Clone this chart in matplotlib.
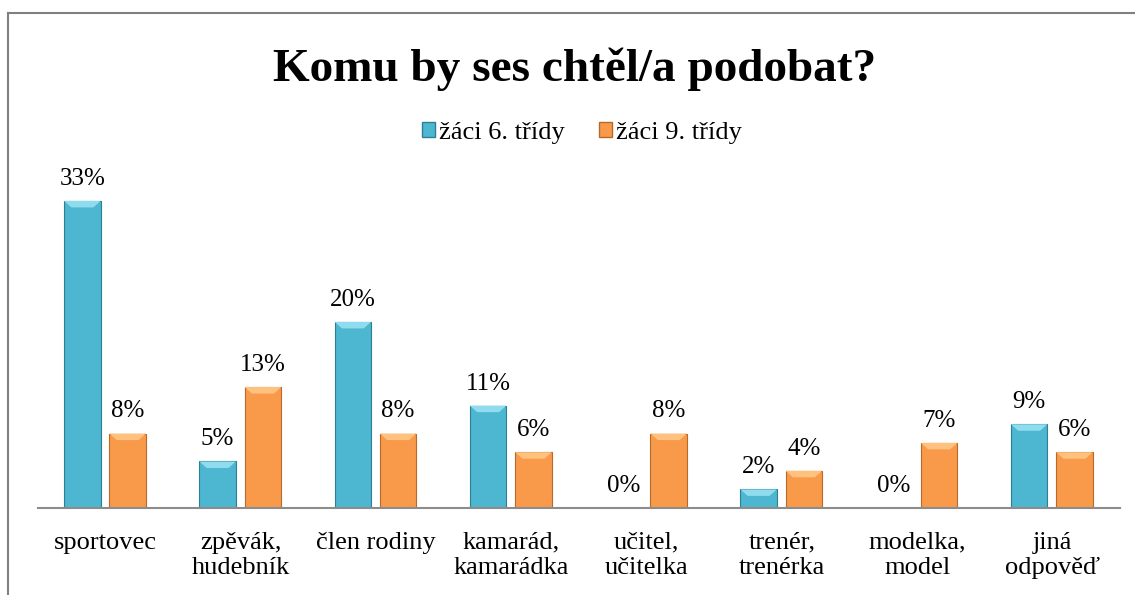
import matplotlib.pyplot as plt
from matplotlib.patches import Polygon, Rectangle
import numpy as np

plt.rcParams['font.family'] = ['Liberation Serif', 'DejaVu Serif']

categories = ['sportovec', 'zpěvák,\nhudebník', 'člen rodiny', 'kamarád,\nkamarádka',
              'učitel,\nučitelka', 'trenér,\ntrenérka', 'modelka,\nmodel', 'jiná\nodpověď']
grade6 = [33, 5, 20, 11, 0, 2, 0, 9]
grade9 = [8, 13, 8, 6, 8, 4, 7, 6]
series_names = ['žáci 6. třídy', 'žáci 9. třídy']

blue = '#4DB6D0'
orange = '#F99A4A'

fig = plt.figure(figsize=(11.35, 5.95), dpi=100)
ax = fig.add_axes([38 / 1135, 87 / 595, (1120 - 38) / 1135, 335 / 595])

x = np.arange(len(categories))
w = 0.27
b1 = ax.bar(x - 0.172, grade6, w, color=blue, edgecolor='#2E7F93', linewidth=0.8, zorder=2)
b2 = ax.bar(x + 0.163, grade9, w, color=orange, edgecolor='#B8692A', linewidth=0.8, zorder=2)


# simple bevel: lighter top cap on each bar
def bevel(bars, light):
    for r in bars:
        x0, y0 = r.get_x(), r.get_y()
        bw, bh = r.get_width(), r.get_height()
        if bh <= 0:
            continue
        d = min(0.7, bh / 2)
        ax.add_patch(Polygon([(x0, y0 + bh), (x0 + bw, y0 + bh),
                              (x0 + bw * 0.8, y0 + bh - d), (x0 + bw * 0.2, y0 + bh - d)],
                             closed=True, color=light, lw=0, zorder=3))


bevel(b1, '#8FDCEE')
bevel(b2, '#FFC27E')

for bars, vals in ((b1, grade6), (b2, grade9)):
    for r, v in zip(bars, vals):
        ax.annotate(f'{v}%', (r.get_x() + r.get_width() / 2, v), xytext=(0, 8),
                    textcoords='offset points', ha='center', va='bottom', fontsize=18)

ax.set_xlim(-0.5, len(categories) - 0.5)
ax.set_ylim(0, 36)
ax.set_xticks(x)
ax.set_xticklabels(categories, fontsize=19, linespacing=1.2, va='top')
ax.tick_params(axis='x', length=0, pad=17)
ax.set_yticks([])
for s in ('top', 'right', 'left'):
    ax.spines[s].set_visible(False)
ax.spines['bottom'].set_color('#8C8C8C')
ax.spines['bottom'].set_linewidth(1.5)

fig.text(575 / 1135, 1 - 69 / 595, 'Komu by ses chtěl/a podobat?', ha='center', va='center',
         fontsize=34, fontweight='bold')

handles = [Rectangle((0, 0), 1, 1, facecolor=blue, edgecolor='#2E7F93'),
           Rectangle((0, 0), 1, 1, facecolor=orange, edgecolor='#B8692A')]
fig.legend(handles, series_names, loc='center', bbox_to_anchor=(582 / 1135, 1 - 133 / 595),
           ncol=2, frameon=False, fontsize=19, handlelength=0.5, handleheight=0.5,
           handletextpad=0.15, columnspacing=1.3)

# outer chart border (left and top visible)
fig.add_artist(plt.Line2D([8 / 1135, 8 / 1135], [0, 1 - 13 / 595], color='#808080', lw=1.5))
fig.add_artist(plt.Line2D([8 / 1135, 1], [1 - 13 / 595, 1 - 13 / 595], color='#808080', lw=1.5))

fig.savefig('out.png', dpi=100)
